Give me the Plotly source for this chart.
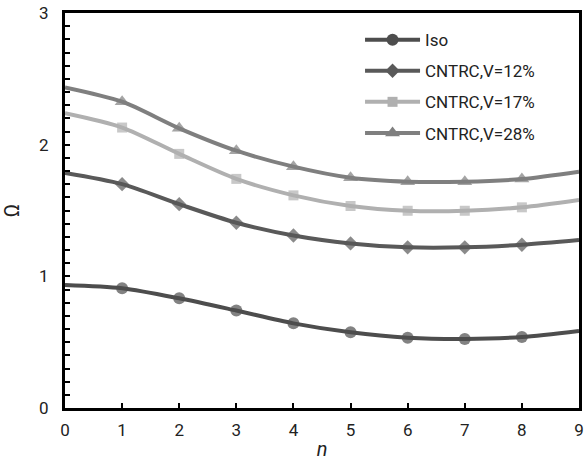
import plotly.graph_objects as go

n_vals = [0, 1, 2, 3, 4, 5, 6, 7, 8, 9]
iso = [0.935, 0.91, 0.833, 0.74, 0.643, 0.575, 0.534, 0.524, 0.539, 0.585]
v12 = [1.785, 1.70, 1.548, 1.407, 1.31, 1.25, 1.22, 1.22, 1.24, 1.276]
v17 = [2.238, 2.13, 1.93, 1.74, 1.615, 1.534, 1.498, 1.498, 1.524, 1.58]
v28 = [2.435, 2.326, 2.124, 1.954, 1.833, 1.749, 1.719, 1.719, 1.739, 1.795]

names = ["Iso", "CNTRC,V=12%", "CNTRC,V=17%", "CNTRC,V=28%"]
series = [iso, v12, v17, v28]
colors = ["#4d4d4d", "#595959", "#b0b0b0", "#7f7f7f"]
symbols = ["circle", "diamond", "square", "triangle-up"]
msizes = [12, 11, 10, 13]

fig = go.Figure()
for i, (nm, ys) in enumerate(zip(names, series)):
    sz = [0] + [msizes[i]] * (len(n_vals) - 2) + [0]
    fig.add_trace(go.Scatter(
        x=n_vals, y=ys, name=nm, mode="lines+markers", showlegend=False,
        line=dict(color=colors[i], width=4, shape="spline", smoothing=0.8),
        marker=dict(symbol=symbols[i], size=sz, color=colors[i], line=dict(width=0)),
        legendgroup=nm,
    ))
    fig.add_trace(go.Scatter(
        x=[None], y=[None], name=nm, mode="lines+markers", showlegend=True,
        line=dict(color=colors[i], width=4),
        marker=dict(symbol=symbols[i], size=msizes[i], color=colors[i], line=dict(width=0)),
        legendgroup=nm,
    ))

fig.update_layout(
    width=584, height=461,
    margin=dict(l=65, r=5, t=13, b=53, autoexpand=False),
    paper_bgcolor="white", plot_bgcolor="white",
    font=dict(family="Roboto, Noto Sans, sans-serif", size=17, color="#222"),
    showlegend=True,
    legend=dict(x=0.574, y=0.977, xanchor="left", yanchor="top",
                bgcolor="rgba(0,0,0,0)", font=dict(size=17),
                traceorder="grouped", tracegroupgap=6, itemwidth=55),
    xaxis=dict(range=[0, 9], tickvals=n_vals, ticks="inside", ticklen=5,
               tickwidth=2, tickcolor="black", showgrid=False, zeroline=False,
               showline=True, linecolor="black", linewidth=3, mirror=True,
               ticklabelstandoff=5, automargin=False,
               title=dict(text="<i>n</i>", standoff=13)),
    yaxis=dict(range=[0, 3], tickvals=[0, 1, 2, 3], ticks="inside", ticklen=5,
               tickwidth=2, tickcolor="black", showgrid=False, zeroline=False,
               showline=True, linecolor="black", linewidth=3, mirror=True,
               ticklabelstandoff=10, automargin=False,
               minor=dict(dtick=0.1, ticks="inside", ticklen=5, tickwidth=2, tickcolor="black"),
               title=dict(text="Ω", standoff=24)),
)

fig.write_html("out.html", config={"displayModeBar": False},
               post_script="document.body.style.margin='0';")
